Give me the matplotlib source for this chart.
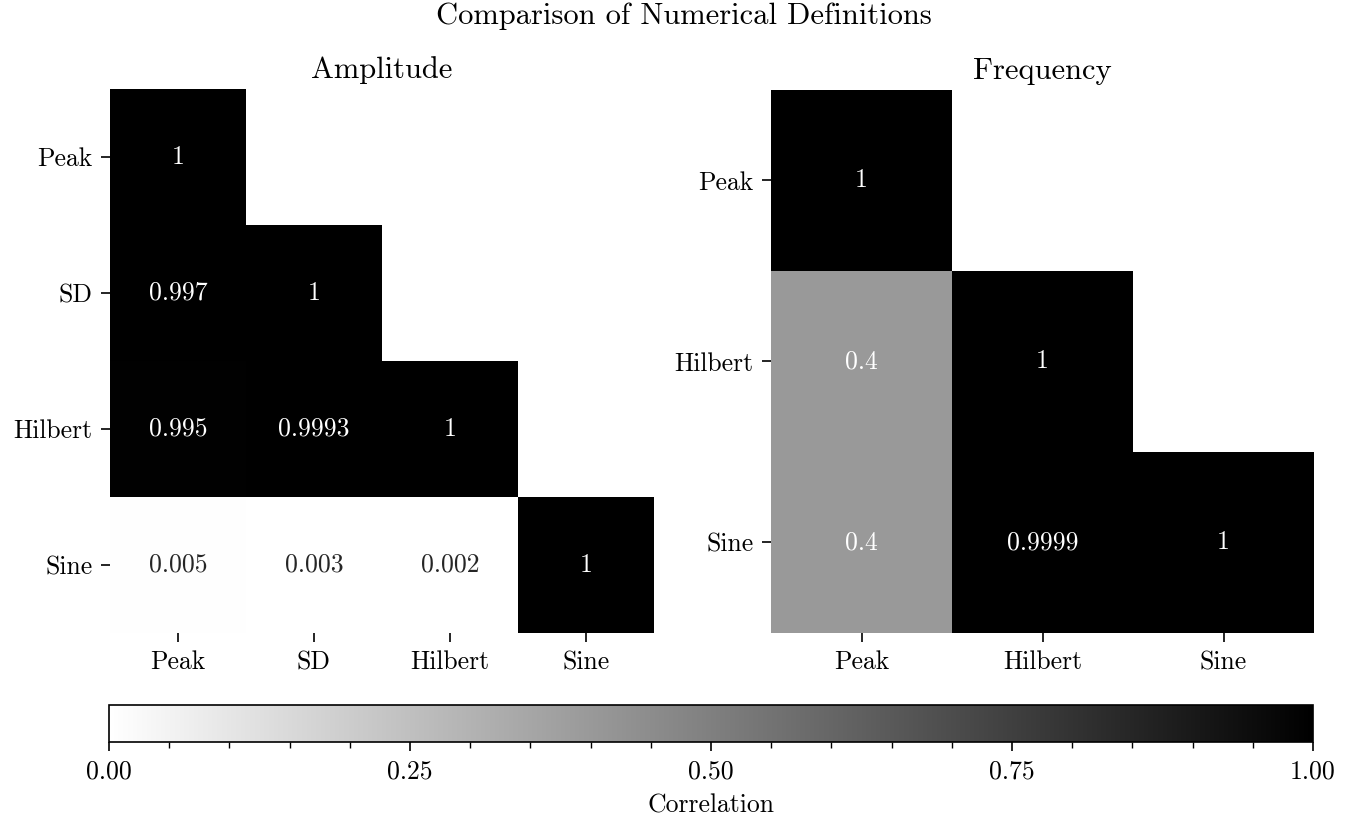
import numpy as np
import matplotlib
matplotlib.use("Agg")
import matplotlib.pyplot as plt
from matplotlib.ticker import MultipleLocator, FormatStrFormatter

plt.rcParams["font.family"] = ["cmr10", "DejaVu Serif"]
plt.rcParams["mathtext.fontset"] = "cm"
plt.rcParams["axes.formatter.use_mathtext"] = True

# Amplitude definitions (lower triangle incl. diagonal)
amp_labels = ["Peak", "SD", "Hilbert", "Sine"]
amp_rows = [
    [1],
    [0.997, 1],
    [0.995, 0.9993, 1],
    [0.005, 0.003, 0.002, 1],
]

# Frequency definitions
freq_labels = ["Peak", "Hilbert", "Sine"]
freq_rows = [
    [1],
    [0.4, 1],
    [0.4, 0.9999, 1],
]

title = "Comparison of Numerical Definitions"
cbar_label = "Correlation"
cbar_ticks = [0.0, 0.25, 0.5, 0.75, 1.0]

FS = 18.5
TFS = 22
cmap = plt.get_cmap("gray_r")


def to_matrix(rows):
    n = len(rows)
    m = np.full((n, n), np.nan)
    for i, r in enumerate(rows):
        m[i, :len(r)] = r
    return np.ma.masked_invalid(m)


def draw_heatmap(ax, rows, labels, name):
    mat = to_matrix(rows)
    n = len(labels)
    mesh = ax.pcolormesh(np.arange(n + 1), np.arange(n + 1), mat,
                         cmap=cmap, vmin=0, vmax=1)
    ax.set_xlim(0, n)
    ax.set_ylim(n, 0)
    ax.set_aspect("equal")
    for s in ax.spines.values():
        s.set_visible(False)
    ax.set_xticks(np.arange(n) + 0.5)
    ax.set_xticklabels(labels, fontsize=FS)
    ax.set_yticks(np.arange(n) + 0.5)
    ax.set_yticklabels(labels, fontsize=FS)
    ax.tick_params(length=6.5, width=1.2, pad=6)
    for i in range(n):
        for j in range(n):
            if np.ma.is_masked(mat[i, j]):
                continue
            v = float(mat[i, j])
            rgb = np.array(cmap(v)[:3])
            lin = np.where(rgb <= 0.03928, rgb / 12.92, ((rgb + 0.055) / 1.055) ** 2.4)
            lum = 0.2126 * lin[0] + 0.7152 * lin[1] + 0.0722 * lin[2]
            color = ".15" if lum > 0.408 else "w"
            ax.text(j + 0.5, i + 0.5, f"{v:g}", ha="center", va="center",
                    color=color, fontsize=FS)
    ax.set_title(name, fontsize=TFS, pad=8)
    return mesh


fig = plt.figure(figsize=(13.67, 8.22), dpi=100)
W, H = 1367, 822

ax1 = fig.add_axes([110 / W, 1 - 633 / H, 544 / W, 544 / H])
ax2 = fig.add_axes([771 / W, 1 - 633 / H, 543 / W, 543 / H])
mesh = draw_heatmap(ax1, amp_rows, amp_labels, "Amplitude")
draw_heatmap(ax2, freq_rows, freq_labels, "Frequency")

cax = fig.add_axes([109 / W, 1 - 742 / H, 1204 / W, 37 / H])
cb = fig.colorbar(mesh, cax=cax, orientation="horizontal")
cb.set_ticks(cbar_ticks)
cb.ax.xaxis.set_major_formatter(FormatStrFormatter("%.2f"))
cb.ax.xaxis.set_minor_locator(MultipleLocator(0.05))
cb.ax.tick_params(which="major", length=6.5, width=1.2, labelsize=FS, pad=6)
cb.ax.tick_params(which="minor", length=4, width=1.0)
cb.outline.set_linewidth(1.2)
cb.set_label(cbar_label, fontsize=FS, labelpad=8)

fig.suptitle(title, fontsize=TFS, y=1 - 3 / H, va="top")

fig.savefig("out.png", dpi=100)
